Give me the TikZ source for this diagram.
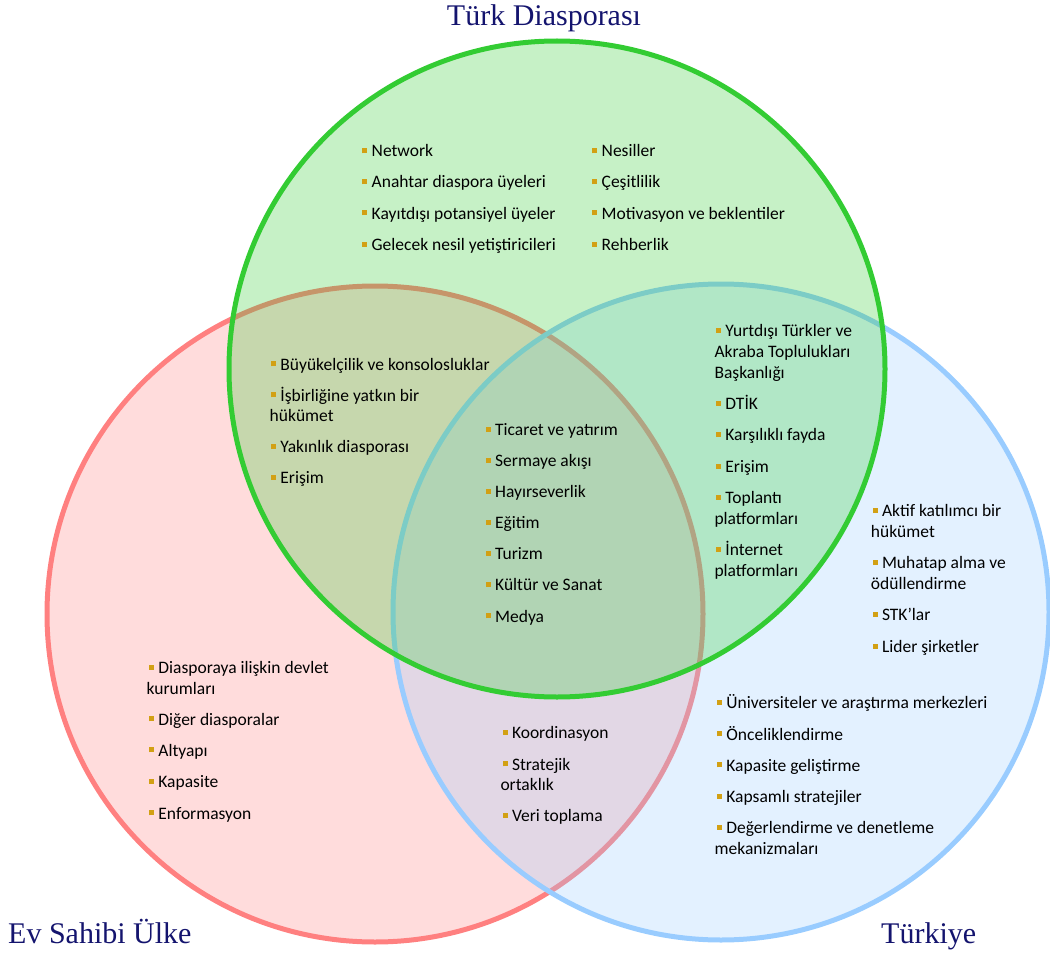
\documentclass[tikz,border=0pt]{standalone}
\usepackage{fontspec}
\setmainfont{Carlito}
\newfontfamily\titlefont{Liberation Serif}
\definecolor{gline}{RGB}{51,204,51}
\definecolor{rline}{RGB}{255,128,128}
\definecolor{bline}{RGB}{153,204,255}
\definecolor{bulc}{RGB}{210,160,20}
\definecolor{navy}{RGB}{20,20,110}
\newcommand\bul{\textcolor{bulc}{\rule[3.7pt]{5pt}{5pt}}\hspace{4.5pt}}
\begin{document}
\begin{tikzpicture}[x=1pt,y=-1pt,
  item/.style={anchor=base west,inner sep=0pt,font=\fontsize{17.5}{21}\selectfont},
  ttl/.style={inner sep=0pt,font=\titlefont\fontsize{30}{36}\selectfont,text=navy},
  venn/.style={line width=5pt,fill opacity=0.28}]
\useasboundingbox (0,0) rectangle (1050,955);
\filldraw[venn,draw=rline,fill=rline] (375,614) circle [radius=328pt];
\filldraw[venn,draw=bline,fill=bline] (721,612) circle [radius=328pt];
\filldraw[venn,draw=gline,fill=gline] (557,369) circle [radius=328pt];
\node[ttl,anchor=base] (tdias) at (544,26) {Türk Diasporası};
\node[ttl,anchor=base west] (tev) at (8,943) {Ev Sahibi Ülke};
\node[ttl,anchor=base west] (ttr) at (881,943) {Türkiye};
\foreach \x/\y/\t [count=\n] in {
  362/157/{\bul Network},
  362/188/{\bul Anahtar diaspora üyeleri},
  362/219/{\bul Kayıtdışı potansiyel üyeler},
  362/250.5/{\bul Gelecek nesil yetiştiricileri},
  592/157/{\bul Nesiller},
  592/188/{\bul Çeşitlilik},
  592/219/{\bul Motivasyon ve beklentiler},
  592/250.5/{\bul Rehberlik},
  270.7/370/{\bul Büyükelçilik ve konsolosluklar},
  270.7/401/{\bul İşbirliğine yatkın bir},
  269.5/421.7/{hükümet},
  270.7/452.7/{\bul Yakınlık diasporası},
  270.7/483.3/{\bul Erişim},
  485.5/435.7/{\bul Ticaret ve yatırım},
  485.5/466.7/{\bul Sermaye akışı},
  485.5/497.3/{\bul Hayırseverlik},
  485.5/528.3/{\bul Eğitim},
  485.5/559.3/{\bul Turizm},
  485.5/590.7/{\bul Kültür ve Sanat},
  485.5/622/{\bul Medya},
  715.7/336.7/{\bul Yurtdışı Türkler ve},
  714.3/357.3/{Akraba Toplulukları},
  714.3/378.3/{Başkanlığı},
  715.7/409.3/{\bul DTİK},
  715.7/440.7/{\bul Karşılıklı fayda},
  715.7/472.2/{\bul Erişim},
  715.7/503.3/{\bul Toplantı},
  714.3/524.3/{platformları},
  715.7/555.7/{\bul İnternet},
  714.3/576.7/{platformları},
  872.3/516.7/{\bul Aktif katılımcı bir},
  870.7/537.3/{hükümet},
  872.3/568.7/{\bul Muhatap alma ve},
  870.7/589.3/{ödüllendirme},
  872.3/620.5/{\bul STK’lar},
  872.3/652.5/{\bul Lider şirketler},
  716.7/708.3/{\bul Üniversiteler ve araştırma merkezleri},
  716.7/740/{\bul Önceliklendirme},
  716.7/771/{\bul Kapasite geliştirme},
  716.7/802.3/{\bul Kapsamlı stratejiler},
  716.7/833.3/{\bul Değerlendirme ve denetleme},
  714.5/854/{mekanizmaları},
  148.7/673.3/{\bul Diasporaya ilişkin devlet},
  146.5/694/{kurumları},
  148.7/725/{\bul Diğer diasporalar},
  148.7/756/{\bul Altyapı},
  148.7/787.5/{\bul Kapasite},
  148.7/819/{\bul Enformasyon},
  502.3/738.3/{\bul Koordinasyon},
  502.3/770/{\bul Stratejik},
  500.3/790.5/{ortaklık},
  502.3/821.7/{\bul Veri toplama}}
  \node[item] (i\n) at (\x,\y) {\t};
\end{tikzpicture}
\end{document}
